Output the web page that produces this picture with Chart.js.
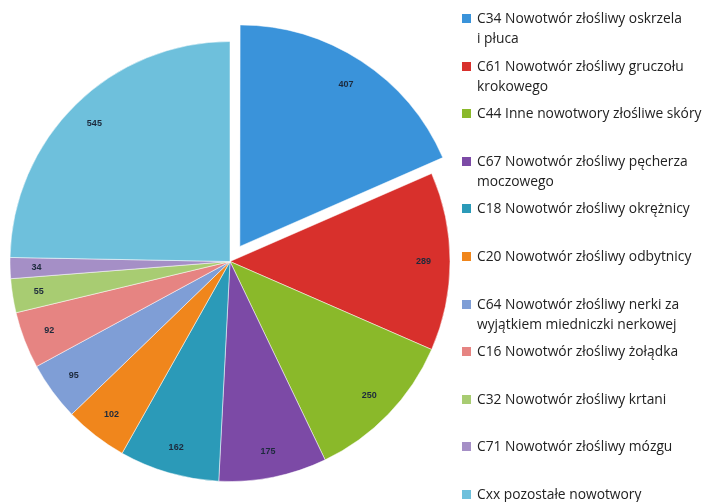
<!DOCTYPE html>
<html>
<head>
<meta charset="utf-8">
<script src="https://cdn.jsdelivr.net/npm/chart.js"></script>
<style>
  html, body { margin: 0; padding: 0; background: #fff; }
  #wrap { position: relative; width: 706px; height: 502px; overflow: hidden; }
  #pie { position: absolute; left: -27px; top: 0; width: 514px; height: 530px; }
  #legend { position: absolute; left: 0; top: 0; width: 706px; height: 502px; font-family: "Open Sans", sans-serif; font-size: 13.8px; color: #222; }
  .item { position: absolute; left: 462px; width: 244px; line-height: 20px; }
  .box { position: absolute; left: 0; top: 6px; width: 9px; height: 9px; }
  .txt { margin-left: 15px; white-space: nowrap; }
</style>
</head>
<body>
<div id="wrap">
  <div id="pie"><canvas id="chart"></canvas></div>
  <div id="legend"></div>
</div>
<script>
const labels = [
  ['C34 Nowotwór złośliwy oskrzela', 'i płuca'],
  ['C61 Nowotwór złośliwy gruczołu', 'krokowego'],
  ['C44 Inne nowotwory złośliwe skóry'],
  ['C67 Nowotwór złośliwy pęcherza', 'moczowego'],
  ['C18 Nowotwór złośliwy okrężnicy'],
  ['C20 Nowotwór złośliwy odbytnicy'],
  ['C64 Nowotwór złośliwy nerki za', 'wyjątkiem miedniczki nerkowej'],
  ['C16 Nowotwór złośliwy żołądka'],
  ['C32 Nowotwór złośliwy krtani'],
  ['C71 Nowotwór złośliwy mózgu'],
  ['Cxx pozostałe nowotwory']
];
const values = [407, 289, 250, 175, 162, 102, 95, 92, 55, 34, 545];
const colors = ['#3a93da', '#d8302c', '#8ab92a', '#7c4aa6', '#2b9ab8', '#f0861c',
                '#7f9ed6', '#e68482', '#a8cc72', '#a58fc6', '#6ec0dc'];
// Chart.js moves an arc by offset / 4, so 72 gives an ~18px pull-out
const offsets = [72, 0, 0, 0, 0, 0, 0, 0, 0, 0, 0];

// value labels drawn inside each slice
const sliceLabels = {
  id: 'sliceLabels',
  afterDatasetsDraw(chart) {
    const ctx = chart.ctx;
    const meta = chart.getDatasetMeta(0);
    ctx.save();
    ctx.font = 'bold 9px "Liberation Sans", sans-serif';
    ctx.fillStyle = '#1d2a3c';
    ctx.textAlign = 'center';
    ctx.textBaseline = 'middle';
    meta.data.forEach((arc, i) => {
      const p = arc.getProps(['x', 'y', 'startAngle', 'endAngle', 'outerRadius'], true);
      const mid = (p.startAngle + p.endAngle) / 2;
      const r = p.outerRadius * 0.88 + (arc.options.offset || 0) / 4;
      ctx.fillText(String(values[i]), p.x + Math.cos(mid) * r, p.y + Math.sin(mid) * r);
    });
    ctx.restore();
  }
};

new Chart(document.getElementById('chart'), {
  type: 'pie',
  data: {
    labels: labels.map(l => l.join(' ')),
    datasets: [{
      data: values,
      backgroundColor: colors,
      borderColor: 'rgba(255,255,255,0.5)',
      borderWidth: 1,
      offset: offsets
    }]
  },
  options: {
    responsive: true,
    maintainAspectRatio: false,
    animation: false,
    layout: { padding: { top: 5, bottom: 12 } },
    plugins: {
      legend: { display: false },
      tooltip: { enabled: false }
    }
  },
  plugins: [sliceLabels]
});

// legend on the right
const legend = document.getElementById('legend');
labels.forEach((lines, i) => {
  const item = document.createElement('div');
  item.className = 'item';
  item.style.top = (8 + i * 47.6) + 'px';
  const box = document.createElement('div');
  box.className = 'box';
  box.style.background = colors[i];
  const txt = document.createElement('div');
  txt.className = 'txt';
  txt.innerHTML = lines.join('<br>');
  item.appendChild(box);
  item.appendChild(txt);
  legend.appendChild(item);
});
</script>
</body>
</html>
